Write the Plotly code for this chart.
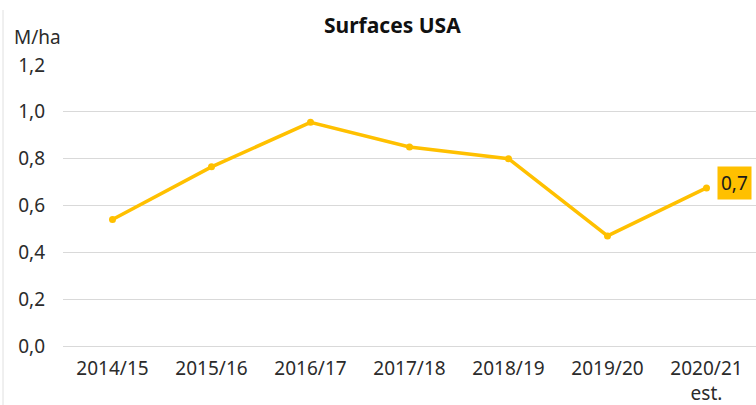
import plotly.graph_objects as go

# Campaign years and US surface area (million hectares)
campaigns = ["2014/15", "2015/16", "2016/17", "2017/18", "2018/19", "2019/20", "2020/21<br>est."]
surfaces = [0.54, 0.765, 0.955, 0.85, 0.80, 0.47, 0.675]
y_ticks = [0.0, 0.2, 0.4, 0.6, 0.8, 1.0, 1.2]
last_label = "0,7"

gold = "#FFC000"
font_family = "Noto Sans, Open Sans, sans-serif"
text_color = "#2b2b2b"

fig = go.Figure()
fig.add_trace(go.Scatter(
    x=campaigns,
    y=surfaces,
    mode="lines+markers",
    line=dict(color=gold, width=3.5),
    marker=dict(color=gold, size=7),
    hoverinfo="skip",
))

# Value tag on the latest point
fig.add_annotation(
    x=campaigns[-1], y=surfaces[-1],
    text=last_label,
    showarrow=False,
    xanchor="left", yanchor="middle",
    xshift=10, yshift=5,
    bgcolor=gold,
    font=dict(family=font_family, size=19, color="#1a1a1a"),
    borderpad=3,
)

fig.add_annotation(
    xref="paper", yref="paper", x=0.476, y=1.0, yshift=40,
    text="<b>Surfaces USA</b>", showarrow=False,
    xanchor="center", yanchor="middle",
    font=dict(family=font_family, size=21, color="#111111"),
)
fig.add_annotation(
    xref="paper", yref="paper", x=0, xshift=-51, y=1.0, yshift=28,
    text="M/ha", showarrow=False,
    xanchor="left", yanchor="middle",
    font=dict(family=font_family, size=19, color=text_color),
)

fig.update_layout(
    width=756, height=405,
    margin=dict(l=63, r=0, t=65, b=59),
    paper_bgcolor="white", plot_bgcolor="white",
    separators=",.",
    showlegend=False,
    font=dict(family=font_family, size=19, color=text_color),
)
fig.update_xaxes(
    type="category",
    range=[-0.5, len(campaigns) - 0.5],
    automargin=False,
    showgrid=False, showline=False, zeroline=False,
    ticks="", tickfont=dict(size=19, color=text_color),
    ticklabelstandoff=9,
)
fig.update_yaxes(
    range=[0, 1.2],
    automargin=False,
    tickvals=y_ticks, tickformat=".1f",
    showgrid=True, gridcolor="#D9D9D9", gridwidth=1,
    zeroline=True, zerolinecolor="#D9D9D9", zerolinewidth=1,
    showline=False, ticks="",
    tickfont=dict(size=19, color=text_color),
    ticklabelstandoff=17,
)

# Thin frame line along the left edge
fig.add_shape(
    type="line", xref="paper", yref="paper",
    x0=-60/693, x1=-60/693, y0=-59/281, y1=1 + 55/281,
    line=dict(color="#E0E0E0", width=1),
)

fig.write_html("out.html")
